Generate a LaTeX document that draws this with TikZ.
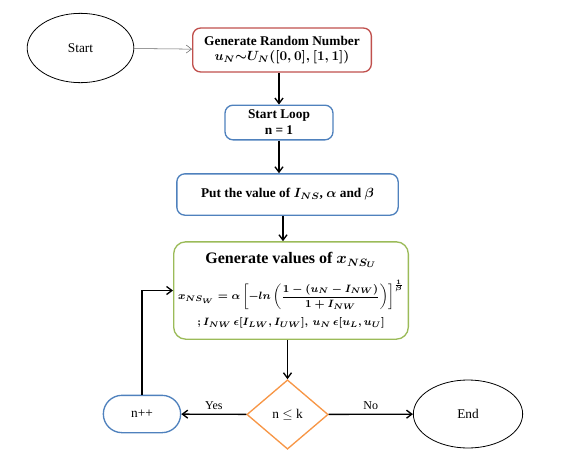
\documentclass[tikz,border=0pt]{standalone}
\usepackage{amsmath,amssymb}
\usepackage{fontspec}
\setmainfont{Liberation Serif}
\usepackage{xcolor}
\usepackage{tikz}
\usetikzlibrary{arrows.meta,shapes.geometric}

\definecolor{boxred}{RGB}{192,80,77}
\definecolor{boxblue}{RGB}{79,129,189}
\definecolor{boxgreen}{RGB}{155,187,89}
\definecolor{boxorange}{RGB}{247,150,70}

\begin{document}
\begin{tikzpicture}[
    x = 0.75pt, y = -0.75pt,
    every node/.style = {font=\small, align=center},
    % Named styles
    termnode/.style = {ellipse, draw, semithick, minimum width=80pt, minimum height=52pt,
                       font=\normalsize},
    boxbase/.style  = {rectangle, rounded corners=6pt, line width=1pt, inner sep=2pt,
                       font=\normalsize\bfseries},
    redbox/.style   = {boxbase, draw=boxred},
    bluebox/.style  = {boxbase, draw=boxblue},
    greenbox/.style = {boxbase, draw=boxgreen, rounded corners=9pt},
    decide/.style   = {diamond, draw=boxorange, line width=1pt, inner sep=0pt,
                       minimum width=61pt, minimum height=52pt, font=\normalsize},
    looptag/.style  = {rectangle, rounded corners=14pt, draw=boxblue, line width=1pt,
                       minimum width=58pt, minimum height=28pt, font=\normalsize},
    flow/.style     = {-{Straight Barb[length=4pt,width=6pt]}, line width=1pt},
    thinflow/.style = {-{Straight Barb[length=4pt,width=6pt]}, thin, draw=black!60},
    annot/.style    = {font=\small},
]

% ── Canvas (pixel units of the reference) ────────────────────────────────────
\useasboundingbox (0,0) rectangle (569,454);

% ── Top row ──────────────────────────────────────────────────────────────────
\node[termnode] (start) at (80.5,48) {Start};
\node[redbox, minimum width=134pt, minimum height=33pt] (gen) at (282,50)
    {Generate Random Number\\[-1pt]
     {\boldmath$u_N{\sim}U_N([0,0],[1,1])$}};

% ── Main column ──────────────────────────────────────────────────────────────
\node[bluebox, minimum width=81pt, minimum height=26pt] (loop) at (279,122.5)
    {Start Loop\\ n = 1};
\node[bluebox, minimum width=166pt, minimum height=31pt] (put) at (287.5,194.5)
    {{\boldmath Put the value of $I_{NS}$, $\alpha$ and $\beta$}};
\node[greenbox, minimum width=176pt, minimum height=73pt] (values) at (291,290.5)
    {{\boldmath\large Generate values of $x_{NS_U}$}\\[8pt]
     {\footnotesize\boldmath$x_{NS_W}=\alpha\left[-ln\left(\dfrac{1-(u_N-I_{NW})}{1+I_{NW}}\right)\right]^{\frac{1}{\beta}}$}\\[5pt]
     {\footnotesize\boldmath$;I_{NW}\,\epsilon[I_{LW},I_{UW}],\,u_N\,\epsilon[u_L,u_U]$}};

% ── Decision row ─────────────────────────────────────────────────────────────
\node[decide] (dec) at (287.5,414.5) {n $\le$ k};
\node[looptag] (npp) at (142,414) {n++};
\node[termnode, minimum width=82pt, minimum height=51pt] (stop) at (468,414) {End};

% ── Connectors ───────────────────────────────────────────────────────────────
\draw[thinflow] (start) -- (gen);
\draw[flow] (gen.south -| loop.north) -- (loop.north);
\draw[flow] (loop.south) -- (loop.south |- put.north);
\draw[flow] (put.south -| values.north) ++(-8,0) coordinate (pv) -- (pv |- values.north);
\draw[flow] (values.south -| dec.north) -- (dec.north);
\draw[flow] (dec) -- (npp) node[midway, above, annot] {Yes};
\draw[flow] (dec) -- (stop) node[midway, above, annot] {No};
\draw[flow] (npp) |- (values.west);

\end{tikzpicture}
\end{document}
